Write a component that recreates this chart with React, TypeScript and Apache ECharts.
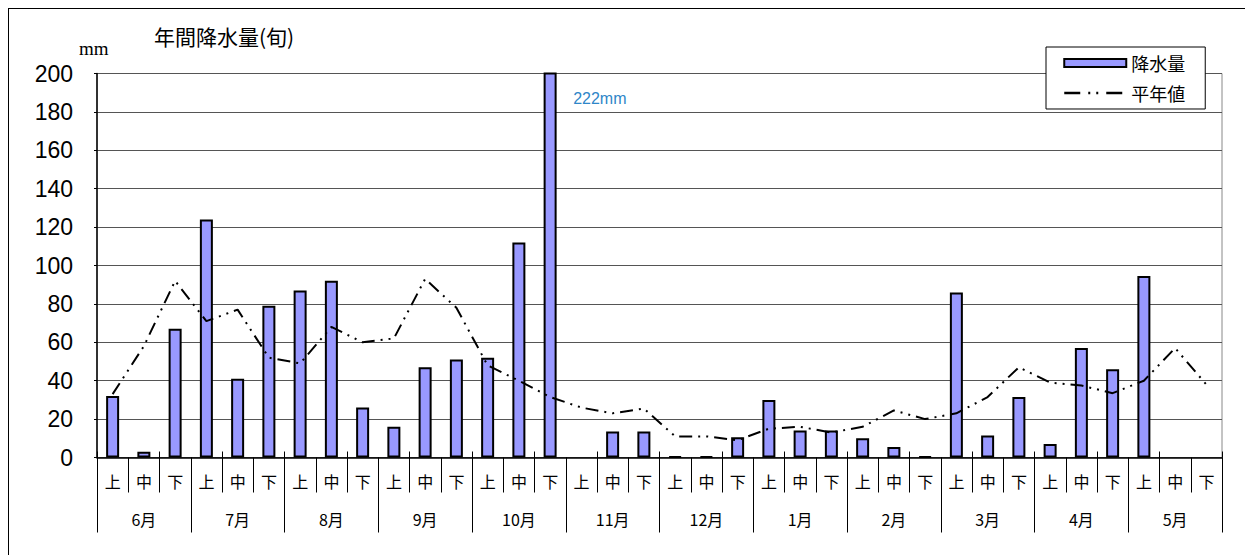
import React, { useEffect, useRef } from 'react';
import * as echarts from 'echarts';

const months = ['6月', '7月', '8月', '9月', '10月', '11月', '12月', '1月', '2月', '3月', '4月', '5月'];
const decades = ['上', '中', '下'];
const rainfall = [32, 3, 67, 124, 41, 79, 87, 92, 26, 16, 47, 51, 52, 112, 222, null, 13.5, 13.5, 0.5, 0.5, 10.5, 30, 14, 14, 10, 5.5, 0.5, 86, 11.5, 31.5, 7, 57, 46, 94.5, null, null];
const normal = [33, 58, 92, 71, 77, 52, 49, 68, 60, 62, 93, 78, 48, 40, 31.5, 26, 23, 25.5, 11, 11, 9, 15, 16, 13, 16, 24.5, 20, 23, 31.5, 47, 39, 37.5, 33.5, 40, 57, 38];
const yTicks = { min: 0, max: 200, interval: 20 };
const seriesNames = ['降水量', '平年値'];
const titleText = '年間降水量(旬)';
const unitText = 'mm';
const overflowIndex = 14;
const overflowLabelY = 187;

const categories: string[] = [];
months.forEach((m) => decades.forEach((d) => categories.push(m + d)));
const decadeLabels = categories.map((c) => c.slice(-1));

const CJK = '"Noto Sans CJK JP", "Noto Sans", sans-serif';
const LAT = '"Liberation Sans", Arial, sans-serif';

export default function App() {
  const ref = useRef<HTMLDivElement>(null);
  useEffect(() => {
    if (!ref.current) return;
    const chart = echarts.init(ref.current, undefined, { renderer: 'svg' });
    const dash = [13, 6, 2, 6, 2, 6];
    chart.setOption({
      animation: false,
      backgroundColor: '#fff',
      title: {
        text: titleText,
        left: 140,
        top: 11,
        textStyle: { fontSize: 21, fontWeight: 'normal', color: '#000', fontFamily: CJK },
      },
      graphic: [
        {
          type: 'text',
          left: 70,
          top: 30,
          style: { text: unitText, fontSize: 19, fill: '#000', fontFamily: '"Liberation Serif", serif' },
        },
      ],
      legend: {
        orient: 'vertical',
        left: 1037,
        top: 38,
        padding: [7, 20, 7, 17],
        backgroundColor: '#fff',
        borderColor: '#000',
        borderWidth: 1,
        borderRadius: 0,
        itemWidth: 62,
        itemHeight: 8,
        itemGap: 12,
        itemTextGap: 8,
        textStyle: { fontSize: 18, color: '#000', fontFamily: CJK },
        data: [
          { name: seriesNames[0], icon: 'rect' },
          { name: seriesNames[1], itemStyle: { opacity: 0 }, lineStyle: { width: 2.5, type: [16, 8, 2, 6, 2, 8] } },
        ],
      },
      grid: { left: 88, top: 64.5, width: 1125, height: 384, show: true, borderColor: '#888', borderWidth: 1 },
      xAxis: [
        {
          type: 'category',
          data: categories,
          position: 'bottom',
          offset: 0,
          axisLine: { show: true, lineStyle: { color: '#000', width: 1.5 } },
          axisTick: { show: true, inside: true, length: 6, lineStyle: { color: '#000' } },
          axisLabel: { show: false },
          splitLine: { show: false },
        },
        {
          type: 'category',
          data: decadeLabels,
          position: 'bottom',
          offset: 0,
          axisLine: { show: false },
          axisTick: { show: true, length: 35, lineStyle: { color: '#000' } },
          axisLabel: { show: true, margin: 15, fontSize: 16, color: '#000', fontFamily: CJK, interval: 0 },
          splitLine: { show: false },
        },
        {
          type: 'category',
          data: months,
          position: 'bottom',
          offset: 0,
          axisLine: { show: false },
          axisTick: { show: true, length: 75, lineStyle: { color: '#000' } },
          axisLabel: { show: true, margin: 53, fontSize: 16, color: '#000', fontFamily: CJK, interval: 0 },
          splitLine: { show: false },
        },
      ],
      yAxis: {
        type: 'value',
        min: yTicks.min,
        max: yTicks.max,
        interval: yTicks.interval,
        axisLine: { show: true, lineStyle: { color: '#000', width: 1.5 } },
        axisTick: { show: true, length: 3, lineStyle: { color: '#000' } },
        axisLabel: { margin: 24, fontSize: 23, color: '#000', fontFamily: LAT },
        splitLine: { show: true, lineStyle: { color: '#555', width: 1.2 } },
      },
      series: [
        {
          name: seriesNames[0],
          type: 'bar',
          xAxisIndex: 0,
          data: rainfall,
          barWidth: 13,
          clip: true,
          itemStyle: { color: '#9999FF', borderColor: '#000', borderWidth: 2 },
          markPoint: {
            symbol: 'circle',
            symbolSize: 0,
            data: [
              {
                coord: [overflowIndex, overflowLabelY],
                value: rainfall[overflowIndex],
                label: {
                  show: true,
                  position: 'right',
                  distance: 23,
                  formatter: (p: any) => p.value + 'mm',
                  color: '#2E86C8',
                  fontSize: 16,
                  fontFamily: LAT,
                },
              },
            ],
          },
        },
        {
          name: seriesNames[1],
          type: 'line',
          xAxisIndex: 0,
          data: normal,
          symbol: 'none',
          lineStyle: { color: '#000', width: 2, type: dash },
          itemStyle: { color: '#000' },
        },
      ],
    });
    return () => chart.dispose();
  }, []);
  return <div ref={ref} style={{ width: 1243, height: 560, border: '1px solid #000' }} />;
}
